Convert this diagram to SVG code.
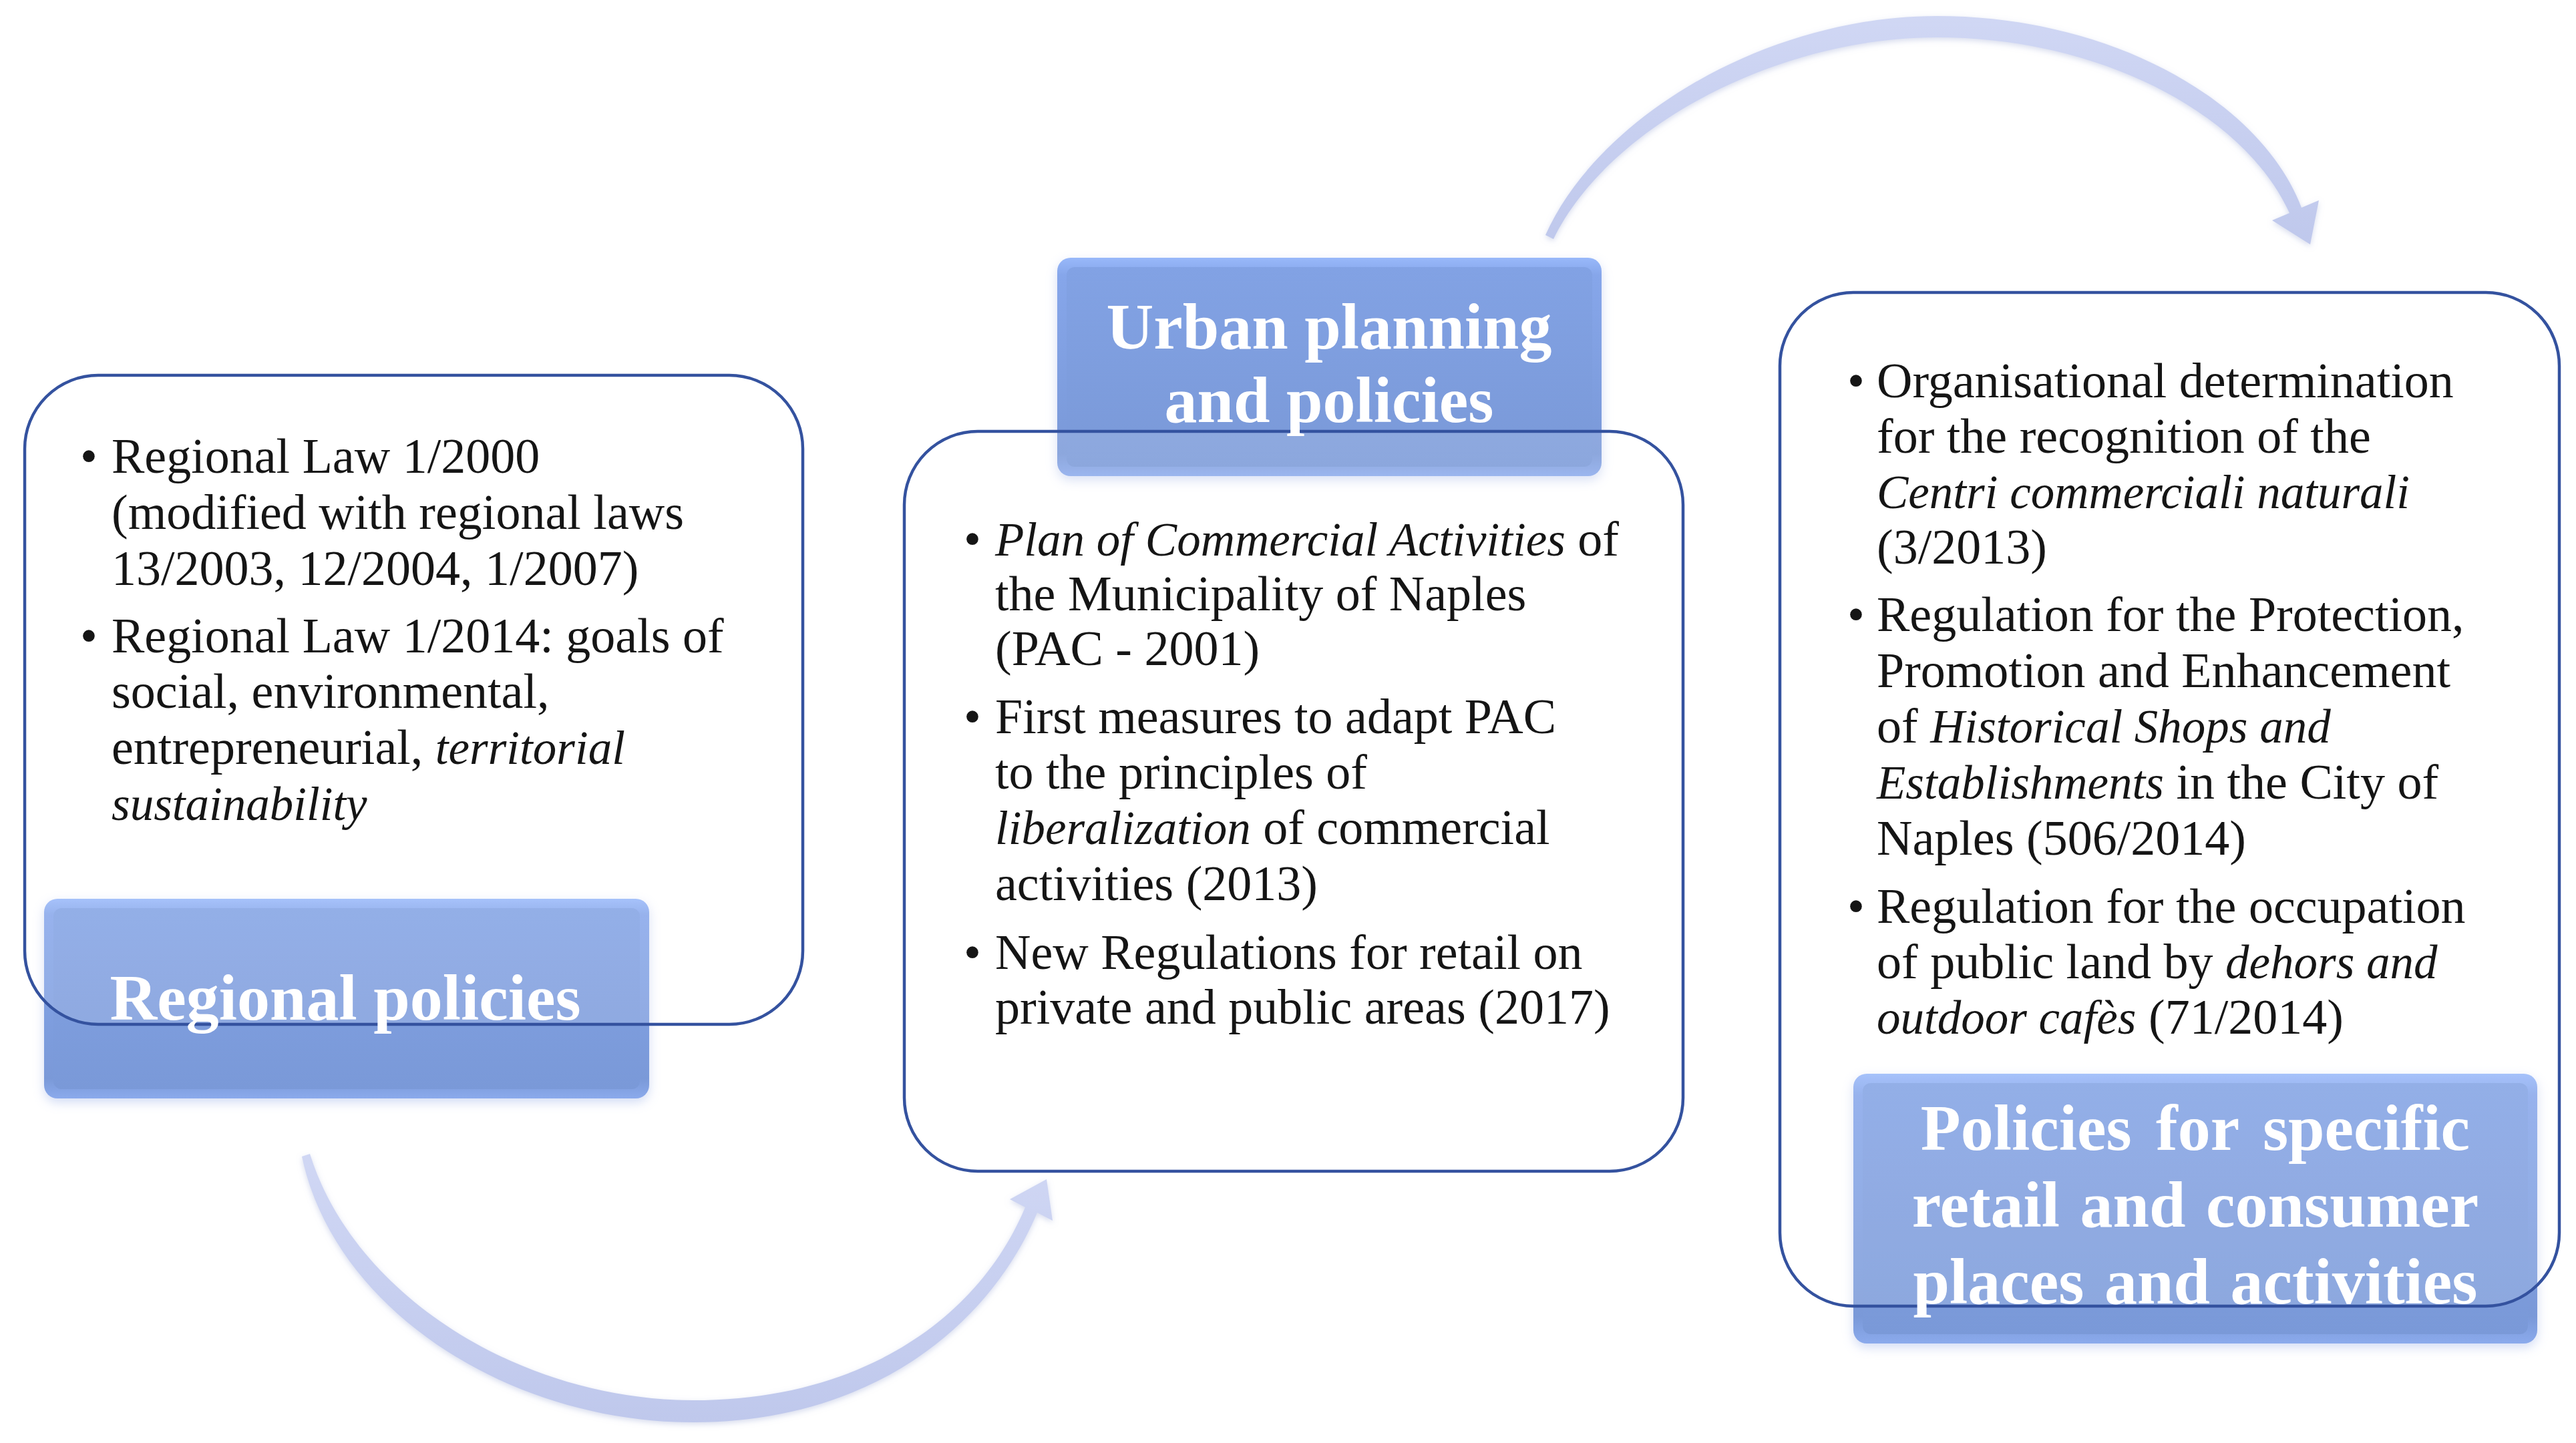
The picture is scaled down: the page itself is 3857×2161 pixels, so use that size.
<svg xmlns="http://www.w3.org/2000/svg" width="3857" height="2161" viewBox="0 0 3857 2161">
  <defs>
    <linearGradient id="rim" x1="0" y1="0" x2="0" y2="1">
      <stop offset="0" stop-color="#98B8FA"/>
      <stop offset="0.08" stop-color="#86A6EA"/>
      <stop offset="0.9" stop-color="#7A99D8"/>
      <stop offset="1" stop-color="#8BAAEC"/>
    </linearGradient>
    <linearGradient id="face" x1="0" y1="0" x2="0" y2="1">
      <stop offset="0" stop-color="#82A2E4"/>
      <stop offset="1" stop-color="#7A99D8"/>
    </linearGradient>
    <linearGradient id="arc" x1="0" y1="0" x2="0" y2="1">
      <stop offset="0" stop-color="#D0D7F4"/>
      <stop offset="1" stop-color="#BFC8EC"/>
    </linearGradient>
    <filter id="glow" x="-10%" y="-10%" width="120%" height="130%">
      <feDropShadow dx="0" dy="6" stdDeviation="8" flood-color="#9DB2E8" flood-opacity="0.45"/>
    </filter>
    <filter id="soft" x="-5%" y="-5%" width="110%" height="115%">
      <feDropShadow dx="0" dy="3" stdDeviation="4" flood-color="#AEB8DD" flood-opacity="0.5"/>
    </filter>
  </defs>
  <style>
    .body { font-family: "Liberation Serif", "Times New Roman", serif; font-size: 74px; fill: #151515; }
    .head { font-family: "Liberation Serif", "Times New Roman", serif; font-size: 98px; font-weight: bold; fill: #FFFFFF; text-anchor: middle; }
    .it { font-style: italic; font-size: 71px; }
    .outline { fill: #FFFFFF; fill-opacity: 0.14; stroke: #34529F; stroke-width: 4.5; }
    .rim { fill: url(#rim); filter: url(#glow); }
    .face { fill: url(#face); }
    .arrow { fill: url(#arc); filter: url(#soft); }
  </style>
  <rect x="0" y="0" width="3857" height="2161" fill="#FFFFFF"/>

  <g id="connectors">
    <path class="arrow" d="M 2314,352 C 2393,175 2645,24 2900,24 C 3160,24 3385,150 3446,311 L 3472,300 L 3459,366 L 3402,330 L 3428,319 C 3360,170 3145,56 2900,56 C 2660,56 2408,190 2326,358 Z"/>
    <path class="arrow" d="M 452,1732 C 500,1960 760,2130 1038,2130 C 1300,2130 1480,1990 1553,1816 L 1576,1828 L 1567,1766 L 1512,1796 L 1535,1808 C 1465,1975 1290,2097 1038,2097 C 780,2097 530,1940 464,1728 Z"/>
  </g>

  <g id="node-regional">
    <rect class="rim" x="66" y="1346" width="906" height="299" rx="20"/>
    <rect class="face" x="80" y="1360" width="878" height="271" rx="12"/>
    <rect class="outline" x="37" y="562" width="1165" height="972" rx="110"/>
    <text class="head" x="517" y="1527">Regional policies</text>
    <text class="body" x="120" y="708">•</text>
    <text class="body" x="120" y="977">•</text>
    <text class="body" x="167" y="708">Regional Law 1/2000</text>
    <text class="body" x="167" y="792">(modified with regional laws</text>
    <text class="body" x="167" y="876">13/2003, 12/2004, 1/2007)</text>
    <text class="body" x="167" y="977">Regional Law 1/2014: goals of</text>
    <text class="body" x="167" y="1060">social, environmental,</text>
    <text class="body" x="167" y="1144">entrepreneurial, <tspan class="it">territorial</tspan></text>
    <text class="body" x="167" y="1228"><tspan class="it">sustainability</tspan></text>
  </g>

  <g id="node-urban">
    <rect class="rim" x="1583" y="386" width="815" height="327" rx="20"/>
    <rect class="face" x="1597" y="400" width="787" height="299" rx="12"/>
    <rect class="outline" x="1354" y="646" width="1166" height="1108" rx="110"/>
    <text class="head" x="1990" y="522">Urban planning</text>
    <text class="head" x="1990" y="632">and policies</text>
    <text class="body" x="1443" y="832">•</text>
    <text class="body" x="1443" y="1098">•</text>
    <text class="body" x="1443" y="1451">•</text>
    <text class="body" x="1490" y="832"><tspan class="it">Plan of Commercial Activities</tspan> of</text>
    <text class="body" x="1490" y="914">the Municipality of Naples</text>
    <text class="body" x="1490" y="996">(PAC - 2001)</text>
    <text class="body" x="1490" y="1098">First measures to adapt PAC</text>
    <text class="body" x="1490" y="1181">to the principles of</text>
    <text class="body" x="1490" y="1264"><tspan class="it">liberalization</tspan> of commercial</text>
    <text class="body" x="1490" y="1348">activities (2013)</text>
    <text class="body" x="1490" y="1451">New Regulations for retail on</text>
    <text class="body" x="1490" y="1533">private and public areas (2017)</text>
  </g>

  <g id="node-specific">
    <rect class="rim" x="2775" y="1608" width="1024" height="404" rx="20"/>
    <rect class="face" x="2789" y="1622" width="996" height="376" rx="12"/>
    <rect class="outline" x="2665" y="438" width="1167" height="1518" rx="110"/>
    <text class="head" x="3287" y="1722" word-spacing="12">Policies for specific</text>
    <text class="head" x="3287" y="1837" word-spacing="6">retail and consumer</text>
    <text class="head" x="3287" y="1952" word-spacing="6">places and activities</text>
    <text class="body" x="2766" y="595">•</text>
    <text class="body" x="2766" y="945">•</text>
    <text class="body" x="2766" y="1382">•</text>
    <text class="body" x="2810" y="595">Organisational determination</text>
    <text class="body" x="2810" y="678">for the recognition of the</text>
    <text class="body" x="2810" y="761"><tspan class="it">Centri commerciali naturali</tspan></text>
    <text class="body" x="2810" y="844">(3/2013)</text>
    <text class="body" x="2810" y="945">Regulation for the Protection,</text>
    <text class="body" x="2810" y="1029">Promotion and Enhancement</text>
    <text class="body" x="2810" y="1112">of <tspan class="it">Historical Shops and</tspan></text>
    <text class="body" x="2810" y="1196"><tspan class="it">Establishments</tspan> in the City of</text>
    <text class="body" x="2810" y="1280">Naples (506/2014)</text>
    <text class="body" x="2810" y="1382">Regulation for the occupation</text>
    <text class="body" x="2810" y="1465">of public land by <tspan class="it">dehors and</tspan></text>
    <text class="body" x="2810" y="1548"><tspan class="it">outdoor cafès</tspan> (71/2014)</text>
  </g>
</svg>
